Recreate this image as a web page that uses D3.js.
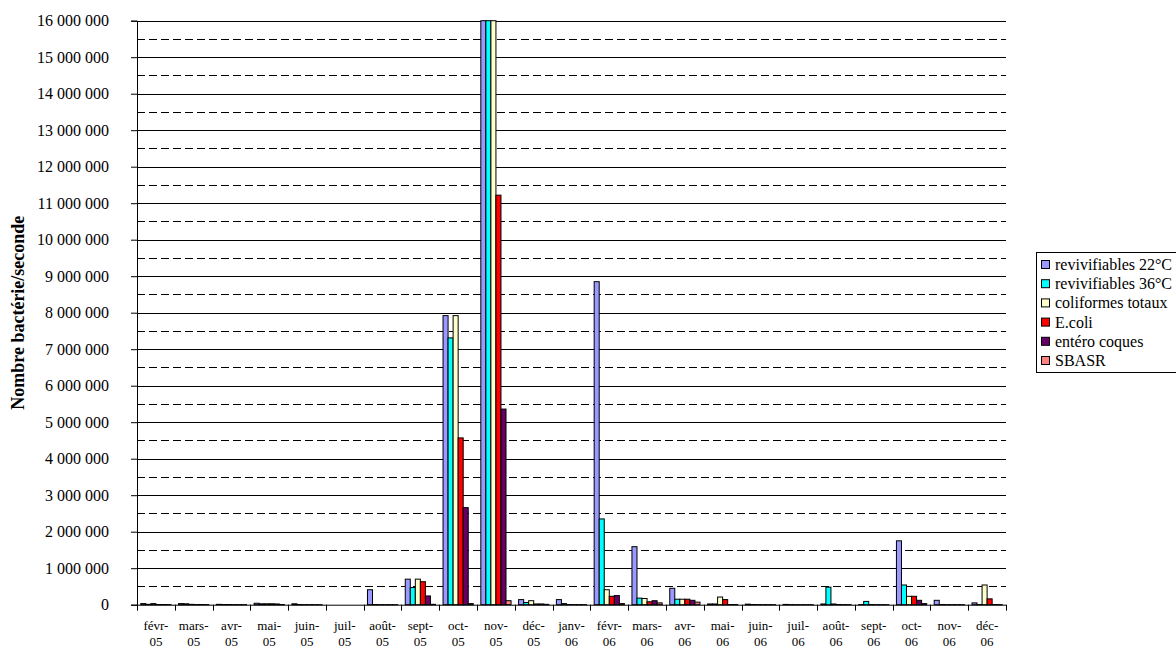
<!DOCTYPE html>
<html lang="fr">
<head>
<meta charset="utf-8">
<title>Nombre bactérie/seconde</title>
<style>
body{
  margin: 0;
  background: #fff;
}
#chart text{
  font-family: "Liberation Serif", "Times New Roman", serif;
  fill: #000;
}
.grid line{
  stroke: #000;
  shape-rendering: crispEdges;
}
</style>
<script src="https://cdn.jsdelivr.net/npm/d3@7"></script>
</head>
<body>
<div id="chart"></div>

<script>
/* mois */
var months = ['févr-05', 'mars-05', 'avr-05', 'mai-05', 'juin-05', 'juil-05', 'août-05', 'sept-05', 'oct-05', 'nov-05', 'déc-05',
  'janv-06', 'févr-06', 'mars-06', 'avr-06', 'mai-06', 'juin-06', 'juil-06', 'août-06', 'sept-06', 'oct-06', 'nov-06', 'déc-06'];

var seriesNames = ['revivifiables 22°C', 'revivifiables 36°C', 'coliformes totaux', 'E.coli', 'entéro coques', 'SBASR'];
var seriesColors = ['#9999FF', '#00FFFF', '#FFFFCC', '#FF0000', '#660066', '#FF8080'];

/* valeurs */
var rev22 = [30000, 30000, 10000, 40000, 25000, 0, 410000, 700000, 7920000, 16500000, 140000, 140000, 8850000, 1590000, 450000, 20000, 15000, 8000, 20000, 5000, 1750000, 120000, 50000];
var rev36 = [10000, 25000, 5000, 25000, 5000, 0, 5000, 470000, 7310000, 16500000, 60000, 30000, 2350000, 180000, 150000, 20000, 5000, 3000, 480000, 90000, 540000, 5000, 5000];
var colif = [30000, 10000, 5000, 25000, 3000, 0, 3000, 700000, 7920000, 16500000, 110000, 5000, 410000, 170000, 150000, 210000, 3000, 2000, 20000, 5000, 230000, 3000, 540000];
var ecoli = [5000, 5000, 3000, 25000, 2000, 0, 2000, 630000, 4570000, 11220000, 20000, 3000, 230000, 80000, 150000, 140000, 2000, 1000, 5000, 2000, 230000, 2000, 160000];
var entero = [5000, 5000, 3000, 20000, 2000, 0, 2000, 240000, 2660000, 5360000, 20000, 3000, 250000, 110000, 120000, 5000, 2000, 1000, 3000, 2000, 120000, 2000, 5000];
var sbasr = [3000, 3000, 2000, 5000, 1000, 0, 1000, 10000, 30000, 110000, 10000, 2000, 30000, 50000, 70000, 5000, 1000, 1000, 2000, 1000, 30000, 1000, 3000];

var series = [rev22, rev36, colif, ecoli, entero, sbasr];
var yTicks = d3.range(0, 16000001, 1000000);
var yHalf = d3.range(500000, 16000000, 1000000);

var W = 1176, H = 646;
var plotL = 137, plotR = 1006, plotT = 20.7, plotB = 604.7;
var yMax = 16000000;

var svg = d3.select('#chart').append('svg')
  .attr('width', W)
  .attr('height', H);

var x = d3.scaleBand()
  .domain(months)
  .range([plotL, plotR]);

/* 6 barres par mois, espace de 1.5 barre */
var xs = d3.scaleBand()
  .domain(d3.range(seriesNames.length))
  .range([0, x.bandwidth()])
  .paddingInner(0)
  .paddingOuter(0.75);

var y = d3.scaleLinear()
  .domain([0, yMax])
  .range([plotB, plotT]);

var fmt = function(d) { return d3.format(',')(d).replace(/,/g, ' '); };

/* quadrillage */
var grid = svg.append('g').attr('class', 'grid');
grid.selectAll('line.major')
  .data(yTicks.slice(1))
  .enter().append('line')
  .attr('class', 'major')
  .attr('x1', plotL).attr('x2', plotR)
  .attr('y1', function(d) { return Math.round(y(d)) + 0.5; })
  .attr('y2', function(d) { return Math.round(y(d)) + 0.5; });
grid.selectAll('line.minor')
  .data(yHalf)
  .enter().append('line')
  .attr('class', 'minor')
  .attr('x1', plotL).attr('x2', plotR)
  .attr('y1', function(d) { return Math.round(y(d)) + 0.5; })
  .attr('y2', function(d) { return Math.round(y(d)) + 0.5; })
  .style('stroke-dasharray', '8,4');

/* barres */
var groups = svg.selectAll('g.month')
  .data(months)
  .enter().append('g')
  .attr('class', 'month')
  .attr('transform', function(d) { return 'translate(' + x(d) + ',0)'; });

groups.selectAll('rect')
  .data(function(d, i) { return series.map(function(s, k) { return { k: k, v: s[i] }; }); })
  .enter().append('rect')
  .attr('x', function(d) { return xs(d.k); })
  .attr('width', xs.bandwidth())
  .attr('y', function(d) { return y(Math.min(d.v, yMax)); })
  .attr('height', function(d) { return plotB - y(Math.min(d.v, yMax)); })
  .style('fill', function(d) { return seriesColors[d.k]; })
  .style('stroke', '#000')
  .style('stroke-width', 1);

/* axe y */
var yAxis = svg.append('g')
  .attr('transform', 'translate(' + plotL + ',0)')
  .call(d3.axisLeft(y).tickValues(yTicks).tickFormat(fmt).tickSize(6).tickPadding(22));
yAxis.selectAll('text').style('font-size', '16px');
yAxis.selectAll('path, line').style('stroke', '#000');

/* axe x */
var xAxis = svg.append('g')
  .attr('transform', 'translate(0,' + plotB + ')');
xAxis.append('line')
  .attr('x1', plotL).attr('x2', plotR)
  .attr('y1', 0.5).attr('y2', 0.5)
  .style('stroke', '#000');
xAxis.selectAll('line.tick')
  .data(months.concat(['end']))
  .enter().append('line')
  .attr('class', 'tick')
  .attr('x1', function(d, i) { return Math.round(plotL + i * x.step()) + 0.5; })
  .attr('x2', function(d, i) { return Math.round(plotL + i * x.step()) + 0.5; })
  .attr('y1', 0).attr('y2', 6)
  .style('stroke', '#000');

var lab = xAxis.selectAll('text')
  .data(months)
  .enter().append('text')
  .attr('x', function(d) { return x(d) + x.bandwidth() / 2; })
  .attr('y', 25)
  .attr('text-anchor', 'middle')
  .style('font-size', '13px');
lab.append('tspan')
  .attr('x', function(d) { return x(d) + x.bandwidth() / 2; })
  .text(function(d) { return d.split('-')[0] + '-'; });
lab.append('tspan')
  .attr('x', function(d) { return x(d) + x.bandwidth() / 2; })
  .attr('dy', 16)
  .text(function(d) { return d.split('-')[1]; });

/* titre axe */
svg.append('text')
  .attr('transform', 'translate(24,' + ((plotT + plotB) / 2) + ') rotate(-90)')
  .attr('text-anchor', 'middle')
  .style('font-size', '18px')
  .style('font-weight', 'bold')
  .text('Nombre bactérie/seconde');

/* légende */
var legend = svg.append('g').attr('transform', 'translate(1036,252)');
legend.append('rect')
  .attr('x', 0.5).attr('y', 0.5)
  .attr('width', 200).attr('height', 120)
  .style('fill', '#fff')
  .style('stroke', '#000');
var item = legend.selectAll('g.item')
  .data(seriesNames)
  .enter().append('g')
  .attr('class', 'item')
  .attr('transform', function(d, i) { return 'translate(0,' + (13 + i * 19.2) + ')'; });
item.append('rect')
  .attr('x', 5.5).attr('y', -4.5)
  .attr('width', 8).attr('height', 8)
  .style('fill', function(d, i) { return seriesColors[i]; })
  .style('stroke', '#000');
item.append('text')
  .attr('x', 19)
  .attr('y', 5)
  .style('font-size', '16px')
  .text(function(d) { return d; });
</script>
</body>
</html>
